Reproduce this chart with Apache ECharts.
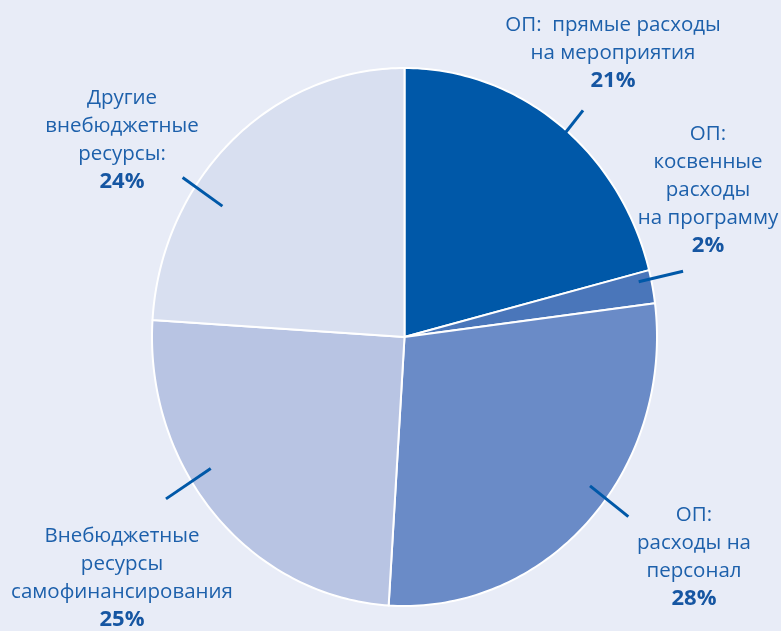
<!DOCTYPE html>
<html>
<head>
<meta charset="utf-8">
<script src="https://cdn.jsdelivr.net/npm/echarts@6/dist/echarts.min.js"></script>
<style>
  html, body { margin: 0; padding: 0; background: #e8ecf7; }
  #chart { width: 781px; height: 631px; }
</style>
</head>
<body>
<div id="chart"></div>
<script>
// slices, clockwise from 12 o'clock
const names = [
  'ОП:  прямые расходы\nна мероприятия',
  'ОП:\nкосвенные\nрасходы\nна программу',
  'ОП:\nрасходы на\nперсонал',
  'Внебюджетные\nресурсы\nсамофинансирования',
  'Другие\nвнебюджетные\nресурсы:'
]
const shares = [21, 2, 28, 25, 24]
const colors = ['#0058a8', '#4a76ba', '#6a8bc7', '#b8c4e3', '#d8dff0']

// label placement (block centre) and leader tick (angle from top, radius factors)
const labelX = [613, 708, 694, 122, 122]
const labelY = [53, 190, 557, 578, 140]
const tickAngle = [40, 77.5, 127, 237.5, 304]
const tickIn = [0.99, 0.95, 0.92, 0.91, 0.87]
const tickOut = [1.10, 1.13, 1.11, 1.12, 1.06]

const cx = 404.5, cy = 337, rx = 252.5, ry = 269
const total = shares.reduce((a, b) => a + b, 0)
const textColor = '#1d60ab'
const font = '"Open Sans", sans-serif'

const pt = (angDeg, k) => {
  const a = angDeg * Math.PI / 180
  return [cx + rx * k * Math.sin(a), cy - ry * k * Math.cos(a)]
}

const chart = echarts.init(document.getElementById('chart'))

chart.setOption({
  backgroundColor: '#e8ecf7',
  animation: false,
  series: [{
    type: 'custom',
    coordinateSystem: 'none',
    data: shares.map((v, i) => [v, i]),
    renderItem: (params, api) => {
      const i = params.dataIndex
      const before = shares.slice(0, i).reduce((a, b) => a + b, 0)
      const a0 = before / total * 360
      const a1 = (before + api.value(0)) / total * 360
      const steps = Math.max(2, Math.ceil(a1 - a0))
      const points = [[cx, cy]]
      for (let s = 0; s <= steps; s++) points.push(pt(a0 + (a1 - a0) * s / steps, 1))
      const p0 = pt(tickAngle[i], tickIn[i])
      const p1 = pt(tickAngle[i], tickOut[i])
      return {
        type: 'group',
        children: [
          {
            type: 'polygon',
            shape: { points },
            style: { fill: colors[i], stroke: '#ffffff', lineWidth: 2, lineJoin: 'round' }
          },
          {
            type: 'line',
            z2: 10,
            shape: { x1: p0[0], y1: p0[1], x2: p1[0], y2: p1[1] },
            style: { stroke: '#0058a8', lineWidth: 3 }
          },
          {
            type: 'text',
            z2: 10,
            x: labelX[i],
            y: labelY[i],
            style: {
              text: names[i] + '\n{b|' + shares[i] + '%}',
              align: 'center',
              verticalAlign: 'middle',
              fill: textColor,
              font: '20.5px ' + font,
              lineHeight: 28,
              rich: {
                b: { fontWeight: 'bold', fontSize: 22, fill: '#1656a2', lineHeight: 28, fontFamily: font }
              }
            }
          }
        ]
      }
    }
  }]
})
</script>
</body>
</html>
